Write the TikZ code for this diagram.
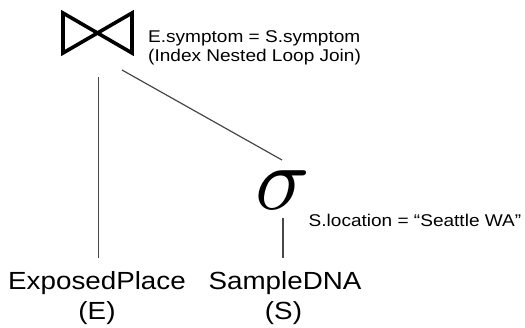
\documentclass[tikz,border=0pt]{standalone}
\usepackage{graphicx}
\usepackage{fontspec}
\setmainfont[FakeStretch=1.12]{Liberation Sans}
\tikzset{
  edge/.style={draw=black!72, line width=1.2pt},
  lbl/.style={inner sep=0pt, font=\fontsize{17}{19}\selectfont, anchor=base west},
  rel/.style={inner sep=0pt, font=\fontsize{24.8}{30}\selectfont, anchor=base},
  bow/.style={line width=3.6pt, line join=miter}
}
\begin{document}
\begin{tikzpicture}[x=1pt,y=-1pt]
\useasboundingbox (0,0) rectangle (525,327);
% join symbol
\coordinate (join) at (97.5,33);
\draw[bow] (63,13) -- (132,53) -- (132,13) -- (63,53) -- cycle;
\node[lbl] (jl1) at (148,42) {E.symptom = S.symptom};
\node[lbl] (jl2) at (148,61.5) {(Index Nested Loop Join)};
% selection
\node[inner sep=0pt, anchor=base] (sel) at (283,209) {\scalebox{9}{$\sigma$}};
\node[lbl] (sl) at (308.5,226) {S.location = “Seattle WA”};
% relations
\node[rel] (E) at (97,289) {ExposedPlace};
\node[rel] (E2) at (97,319) {(E)};
\node[rel] (S) at (285,289) {SampleDNA};
\node[rel] (S2) at (283.5,319) {(S)};
% connector end points
\coordinate (jb) at (98.5,77);
\coordinate (jd) at (122,70);
\coordinate (st) at (282,160);
\coordinate (sb) at (283,218);
\coordinate (Et) at (98.5,258);
\coordinate (St) at (283,258);
\draw[edge] (jb) -- (Et);
\draw[edge] (jd) -- (st);
\draw[edge] (sb) -- (St);
\end{tikzpicture}
\end{document}
